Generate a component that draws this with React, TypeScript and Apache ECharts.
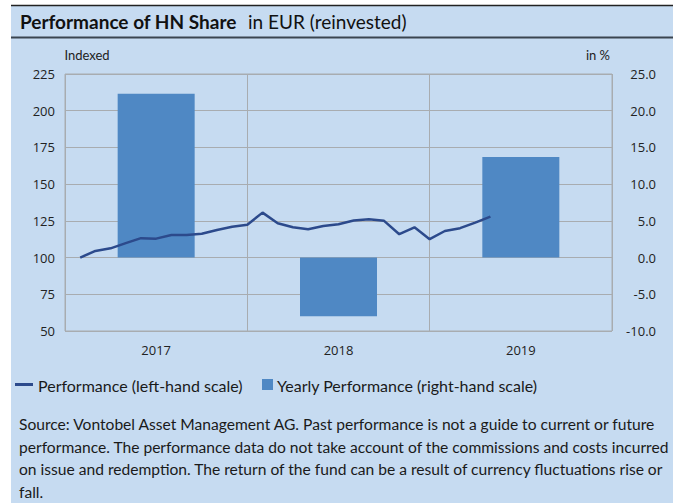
import React, { useEffect, useRef } from "react";
import * as echarts from "echarts";

const years = ["2017", "2018", "2019"];
const yearlyPerformance = [22.3, -8.0, 13.7];
const monthIndex = [1, 2, 3, 4, 5, 6, 7, 8, 9, 10, 11, 12, 13, 14, 15, 16, 17, 18, 19, 20, 21, 22, 23, 24, 25, 26, 27, 28];
const performance = [100, 104.5, 106.3, 109.8, 113.2, 112.9, 115.4, 115.4, 116.2, 118.8, 121, 122.4, 130.6, 123.4, 120.6, 119.3, 121.5, 122.7, 125.2, 126.1, 125, 115.9, 120.6, 112.5, 118.1, 120, 123.8, 127.9];
const sourceLines = [
  "Source: Vontobel Asset Management AG. Past performance is not a guide to current or future",
  "performance. The performance data do not take account of the commissions and costs incurred",
  "on issue and redemption. The return of the fund can be a result of currency fluctuations rise or",
  "fall.",
];

const BG = "#c6dbf1";
const BAR = "#4f88c4";
const LINE = "#2c4a8c";
const GRIDC = "#a8acb0";
const FONT = "Lato, 'Open Sans', sans-serif";
const AXFONT = "'Open Sans', sans-serif";

export default function App() {
  const ref = useRef<HTMLDivElement>(null);
  useEffect(() => {
    if (!ref.current) return;
    const chart = echarts.init(ref.current, null, { renderer: "svg" });
    const lineData = monthIndex.map((m, i) => [m, performance[i]]);
    chart.setOption({
      animation: false,
      graphic: [
        { type: "rect", shape: { x: 11, y: 5, width: 662, height: 498 }, style: { fill: BG }, z: -10 },
        { type: "line", shape: { x1: 11, y1: 5.5, x2: 673, y2: 5.5 }, style: { stroke: "#222", lineWidth: 1.5 } },
        { type: "line", shape: { x1: 11, y1: 37.5, x2: 673, y2: 37.5 }, style: { stroke: "#3a4550", lineWidth: 2 } },
        {
          type: "text",
          x: 20,
          y: 21,
          style: { text: "Performance of HN Share", fontFamily: FONT, fontSize: 19, fontWeight: "bold", fill: "#111", verticalAlign: "middle" },
        },
        {
          type: "text",
          x: 248,
          y: 21,
          style: { text: "in EUR (reinvested)", fontFamily: FONT, fontSize: 19, fill: "#111", verticalAlign: "middle" },
        },
        { type: "text", x: 87, y: 55, style: { text: "Indexed", fontFamily: FONT, fontSize: 13, fill: "#222", align: "center", verticalAlign: "middle" } },
        { type: "text", x: 610, y: 55, style: { text: "in %", fontFamily: FONT, fontSize: 13, fill: "#222", align: "right", verticalAlign: "middle" } },
        { type: "rect", shape: { x: 15, y: 383, width: 18, height: 3 }, style: { fill: LINE } },
        { type: "text", x: 38, y: 385, style: { text: "Performance (left-hand scale)", fontFamily: FONT, fontSize: 16, fill: "#1a1a1a", verticalAlign: "middle" } },
        { type: "rect", shape: { x: 262, y: 379, width: 11, height: 11 }, style: { fill: BAR } },
        { type: "text", x: 277, y: 385, style: { text: "Yearly Performance (right-hand scale)", fontFamily: FONT, fontSize: 16, fill: "#1a1a1a", verticalAlign: "middle" } },
        ...sourceLines.map((t, i) => ({
          type: "text",
          x: 19,
          y: 424 + i * 22.7,
          style: { text: t, fontFamily: FONT, fontSize: 15.6, fill: "#1a1a1a", verticalAlign: "middle" },
        })),
      ],
      grid: { left: 65, right: 67, top: 74, bottom: 172, show: true, borderColor: GRIDC, borderWidth: 1, backgroundColor: "transparent" },
      xAxis: [
        {
          type: "category",
          data: years,
          boundaryGap: true,
          axisLine: { show: false },
          axisTick: { show: false },
          splitLine: { show: true, lineStyle: { color: GRIDC, width: 1 } },
          axisLabel: { fontFamily: AXFONT, fontSize: 13, color: "#222", margin: 12 },
        },
        { type: "value", min: 0, max: 36, show: false },
      ],
      yAxis: [
        {
          type: "value",
          min: 50,
          max: 225,
          interval: 25,
          axisLine: { show: false },
          axisTick: { show: false },
          splitLine: { show: true, lineStyle: { color: GRIDC, width: 1 } },
          axisLabel: { fontFamily: AXFONT, fontSize: 13, color: "#222", margin: 10 },
        },
        {
          type: "value",
          min: -10,
          max: 25,
          interval: 5,
          position: "right",
          axisLine: { show: false },
          axisTick: { show: false },
          splitLine: { show: false },
          axisLabel: {
            fontFamily: AXFONT,
            fontSize: 13,
            color: "#222",
            margin: 44,
            align: "right",
            formatter: (v: number) => v.toFixed(1),
          },
        },
      ],
      series: [
        {
          name: "Yearly Performance (right-hand scale)",
          type: "bar",
          xAxisIndex: 0,
          yAxisIndex: 1,
          data: yearlyPerformance,
          barWidth: 77,
          itemStyle: { color: BAR },
          z: 1,
        },
        {
          name: "Performance (left-hand scale)",
          type: "line",
          xAxisIndex: 1,
          yAxisIndex: 0,
          data: lineData,
          showSymbol: false,
          lineStyle: { color: LINE, width: 2.5 },
          z: 3,
        },
      ],
    });
    return () => chart.dispose();
  }, []);
  return <div ref={ref} style={{ position: "fixed", left: 0, top: 0, width: 679, height: 503, background: "#fff" }} />;
}
